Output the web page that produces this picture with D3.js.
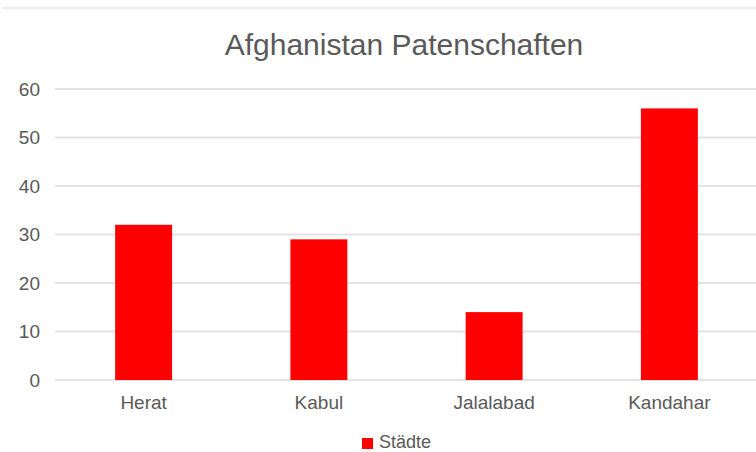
<!DOCTYPE html>
<html>
<head>
<meta charset="utf-8">
<script src="https://cdn.jsdelivr.net/npm/d3@7"></script>
<style>
  body { margin: 0; background: #fff; }
  svg { display: block; font-family: "Liberation Sans", Arial, sans-serif; }
</style>
</head>
<body>
<div class="visHolder"></div>
<script>
var cities = ['Herat', 'Kabul', 'Jalalabad', 'Kandahar'];
var values = [32, 29, 14, 56];
var yTicks = [0, 10, 20, 30, 40, 50, 60];
var seriesName = 'Städte';
var chartTitle = 'Afghanistan Patenschaften';

var width = 756,
  height = 452;

var svg = d3
  .select('.visHolder')
  .append('svg')
  .attr('width', width)
  .attr('height', height);

// thin border line at the top
svg
  .append('line')
  .attr('x1', 3)
  .attr('x2', width)
  .attr('y1', 8)
  .attr('y2', 8)
  .attr('stroke', '#ececec')
  .attr('stroke-width', 2);

svg
  .append('text')
  .attr('x', 404)
  .attr('y', 55)
  .attr('text-anchor', 'middle')
  .attr('font-size', 30)
  .attr('fill', '#595959')
  .text(chartTitle);

var xScale = d3
  .scaleBand()
  .domain(cities)
  .range([56, 757])
  .paddingInner(0.675)
  .paddingOuter(0.3375);

var yScale = d3.scaleLinear().domain([0, 60]).range([380, 89]);

// gridlines
svg
  .append('g')
  .selectAll('line')
  .data(yTicks)
  .enter()
  .append('line')
  .attr('x1', 55)
  .attr('x2', width)
  .attr('y1', d => yScale(d))
  .attr('y2', d => yScale(d))
  .attr('stroke', '#e3e3e3')
  .attr('stroke-width', 2);

// y axis labels
var yAxis = d3.axisLeft(yScale).tickValues(yTicks).tickSize(0).tickPadding(0);
var yG = svg.append('g').attr('transform', 'translate(40, 0)').call(yAxis);
yG.select('.domain').remove();
yG.selectAll('text')
  .attr('font-size', 19)
  .attr('font-family', '"Liberation Sans", Arial, sans-serif')
  .attr('fill', '#595959');

// bars
svg
  .append('g')
  .selectAll('rect')
  .data(values)
  .enter()
  .append('rect')
  .attr('x', (d, i) => xScale(cities[i]))
  .attr('y', d => yScale(d))
  .attr('width', xScale.bandwidth())
  .attr('height', d => yScale(0) - yScale(d))
  .attr('fill', '#ff0000');

// x axis labels
var xAxis = d3.axisBottom(xScale).tickSize(0).tickPadding(0);
var xG = svg.append('g').attr('transform', 'translate(0, 395)').call(xAxis);
xG.select('.domain').remove();
xG.selectAll('text')
  .attr('font-size', 19)
  .attr('font-family', '"Liberation Sans", Arial, sans-serif')
  .attr('fill', '#595959');

// legend
var legend = svg.append('g').attr('transform', 'translate(362, 438)');
legend
  .append('rect')
  .attr('width', 11)
  .attr('height', 11)
  .attr('fill', '#ff0000');
legend
  .append('text')
  .attr('x', 17)
  .attr('y', 10)
  .attr('font-size', 18)
  .attr('fill', '#595959')
  .text(seriesName);
</script>
</body>
</html>
